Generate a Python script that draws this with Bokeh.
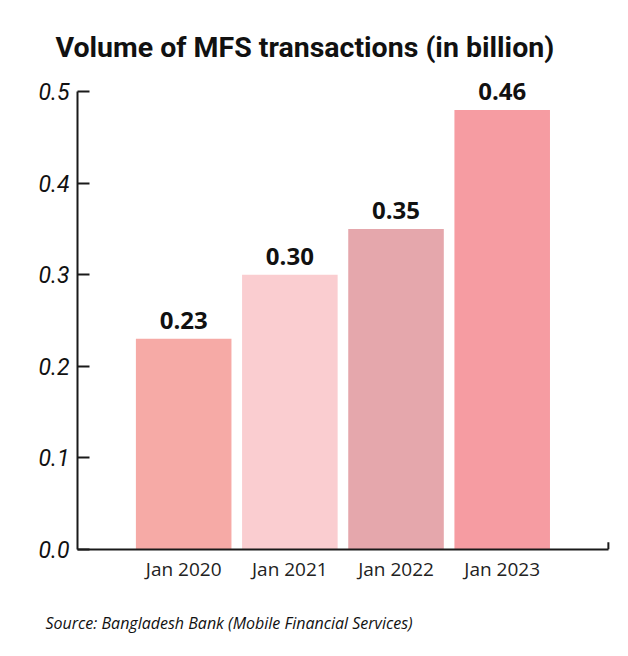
from bokeh.plotting import figure
from bokeh.models import FixedTicker, Range1d, ColumnDataSource, LabelSet, Title
from bokeh.core.properties import value
from bokeh.embed import file_html
from bokeh.resources import INLINE

categories = ["Jan 2020", "Jan 2021", "Jan 2022", "Jan 2023"]
volumes = [0.23, 0.30, 0.35, 0.48]
value_labels = ["0.23", "0.30", "0.35", "0.46"]
bar_colors = ["#f6aaa6", "#facdd0", "#e5a7ac", "#f69ca2"]
y_ticks = [0.0, 0.1, 0.2, 0.3, 0.4, 0.5]
title_text = "Volume of MFS transactions (in billion)"
source_text = "Source: Bangladesh Bank (Mobile Financial Services)"

xs = list(range(1, len(categories) + 1))

src = ColumnDataSource(dict(x=xs, top=volumes, color=bar_colors, lab=value_labels))

p = figure(width=620, height=650, output_backend="svg", toolbar_location=None,
           x_range=Range1d(0, 5.02), y_range=Range1d(0, 0.523),
           min_border_left=77, min_border_right=10, min_border_top=70, min_border_bottom=101)
p.outline_line_color = None
p.grid.visible = False
p.background_fill_color = "white"
p.border_fill_color = "white"

p.vbar(x="x", top="top", width=0.9, bottom=0, color="color", source=src, line_color=None)

labels = LabelSet(x="x", y="top", text="lab", source=src, text_align="center",
                  text_baseline="bottom", y_offset=10, text_font=value("Open Sans"),
                  text_font_style="bold", text_font_size="24px", text_color="#111111")
p.add_layout(labels)

# y axis
ya = p.yaxis[0]
ya.ticker = FixedTicker(ticks=y_ticks)
ya.major_label_overrides = {t: f"{t:.1f}" for t in y_ticks}
ya.bounds = (0, 0.5)
ya.axis_line_width = 2
ya.axis_line_color = "#1a1a1a"
ya.major_tick_in = 12
ya.major_tick_out = 0
ya.major_tick_line_width = 2
ya.major_tick_line_color = "#1a1a1a"
ya.minor_tick_line_color = None
ya.major_label_standoff = 8
ya.major_label_text_font = "Roboto"
ya.major_label_text_font_style = "italic"
ya.major_label_text_font_size = "23px"
ya.major_label_text_color = "#111111"

# x axis
xa = p.xaxis[0]
xa.ticker = FixedTicker(ticks=xs)
xa.major_label_overrides = {x: c for x, c in zip(xs, categories)}
xa.bounds = (0, 5)
xa.axis_line_width = 2
xa.axis_line_color = "#1a1a1a"
xa.major_tick_line_color = None
xa.minor_tick_line_color = None
xa.major_label_standoff = 0
xa.major_label_text_font = "Open Sans"
xa.major_label_text_font_size = "19px"
xa.major_label_text_color = "#222222"

# end tick on the x axis
p.segment(x0=[5], y0=[0], x1=[5], y1=[0.008], line_color="#1a1a1a", line_width=2)

p.title = Title(text=title_text, align="left", offset=-22, standoff=14,
                text_font="Roboto", text_font_style="bold", text_font_size="28.5px",
                text_color="#111111")
p.add_layout(Title(text=" ", text_font_size="6px", standoff=0), "below")
p.add_layout(Title(text=source_text, align="left", offset=-32, standoff=34,
                   text_font="Open Sans", text_font_style="italic", text_font_size="16px",
                   text_color="#111111"), "below")

open("out.html", "w").write(file_html(p, INLINE))
